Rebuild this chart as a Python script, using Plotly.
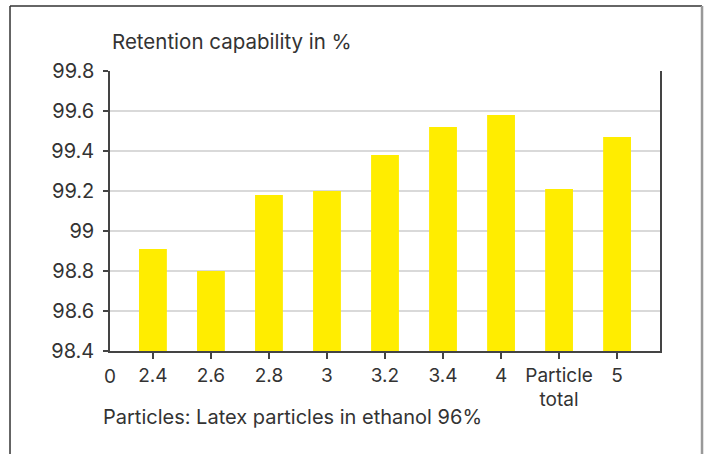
import plotly.graph_objects as go

categories = ["2.4", "2.6", "2.8", "3", "3.2", "3.4", "4", "Particle<br>total", "5"]
retention = [98.91, 98.80, 99.18, 99.20, 99.38, 99.52, 99.58, 99.21, 99.47]
y_ticks = [98.4, 98.6, 98.8, 99.0, 99.2, 99.4, 99.6, 99.8]
y_ticklabels = ["98.4", "98.6", "98.8", "99", "99.2", "99.4", "99.6", "99.8"]

FONT = "Inter, Lato, sans-serif"
TXT = "#333333"

fig = go.Figure()
fig.add_trace(go.Bar(
    x=categories, y=retention,
    marker=dict(color="#FFED00", line=dict(width=0)),
    width=0.48,
))

fig.update_layout(
    width=707, height=454,
    margin=dict(l=110, r=47, t=71, b=103, autoexpand=False),
    paper_bgcolor="white", plot_bgcolor="white",
    font=dict(family=FONT, size=19, color=TXT),
    showlegend=False,
)
fig.update_xaxes(
    type="category",
    range=[-0.74, 8.74],
    showline=True, linecolor="#444444", linewidth=1.5,
    ticks="outside", ticklen=6, tickcolor="#444444", tickwidth=1.5,
    showgrid=False, zeroline=False, automargin=False,
    tickfont=dict(family=FONT, size=19, color=TXT),
)
fig.update_yaxes(
    range=[98.4, 99.8],
    tickvals=y_ticks, ticktext=y_ticklabels,
    showline=True, linecolor="#444444", linewidth=1.5, mirror=True,
    ticks="outside", ticklen=5, tickcolor="#444444", tickwidth=1.5,
    showgrid=True, gridcolor="#d9d9d9", gridwidth=1.5,
    zeroline=False, automargin=False,
    tickfont=dict(family=FONT, size=20, color=TXT),
    ticklabelstandoff=5,
)

fig.add_annotation(text="0", xref="paper", yref="paper", x=0, y=0,
                   yshift=-12, xanchor="center", yanchor="top", showarrow=False,
                   font=dict(family=FONT, size=19, color=TXT))
fig.add_annotation(text="Retention capability in %", xref="paper", yref="paper",
                   x=0.0, y=1.107, xanchor="left", yanchor="middle", showarrow=False,
                   font=dict(family=FONT, size=20.5, color=TXT))
fig.add_annotation(text="Particles: Latex particles in ethanol 96%", xref="paper", yref="paper",
                   x=-0.016, y=-0.236, xanchor="left", yanchor="middle", showarrow=False,
                   font=dict(family=FONT, size=20, color=TXT))

# outer frame
fig.add_shape(type="line", xref="paper", yref="paper", x0=-0.1818, x1=1.0764, y0=1.232, y1=1.232,
              line=dict(color="#333333", width=1.5))
fig.add_shape(type="line", xref="paper", yref="paper", x0=-0.1818, x1=-0.1818, y0=1.232, y1=-0.5,
              line=dict(color="#333333", width=1.5))
fig.add_shape(type="line", xref="paper", yref="paper", x0=1.0764, x1=1.0764, y0=1.232, y1=-0.5,
              line=dict(color="#999999", width=2.5))

fig.write_html("out.html", config={"displayModeBar": False},
               post_script="document.body.style.margin='0';document.body.style.padding='0';document.body.style.overflow='hidden';")
